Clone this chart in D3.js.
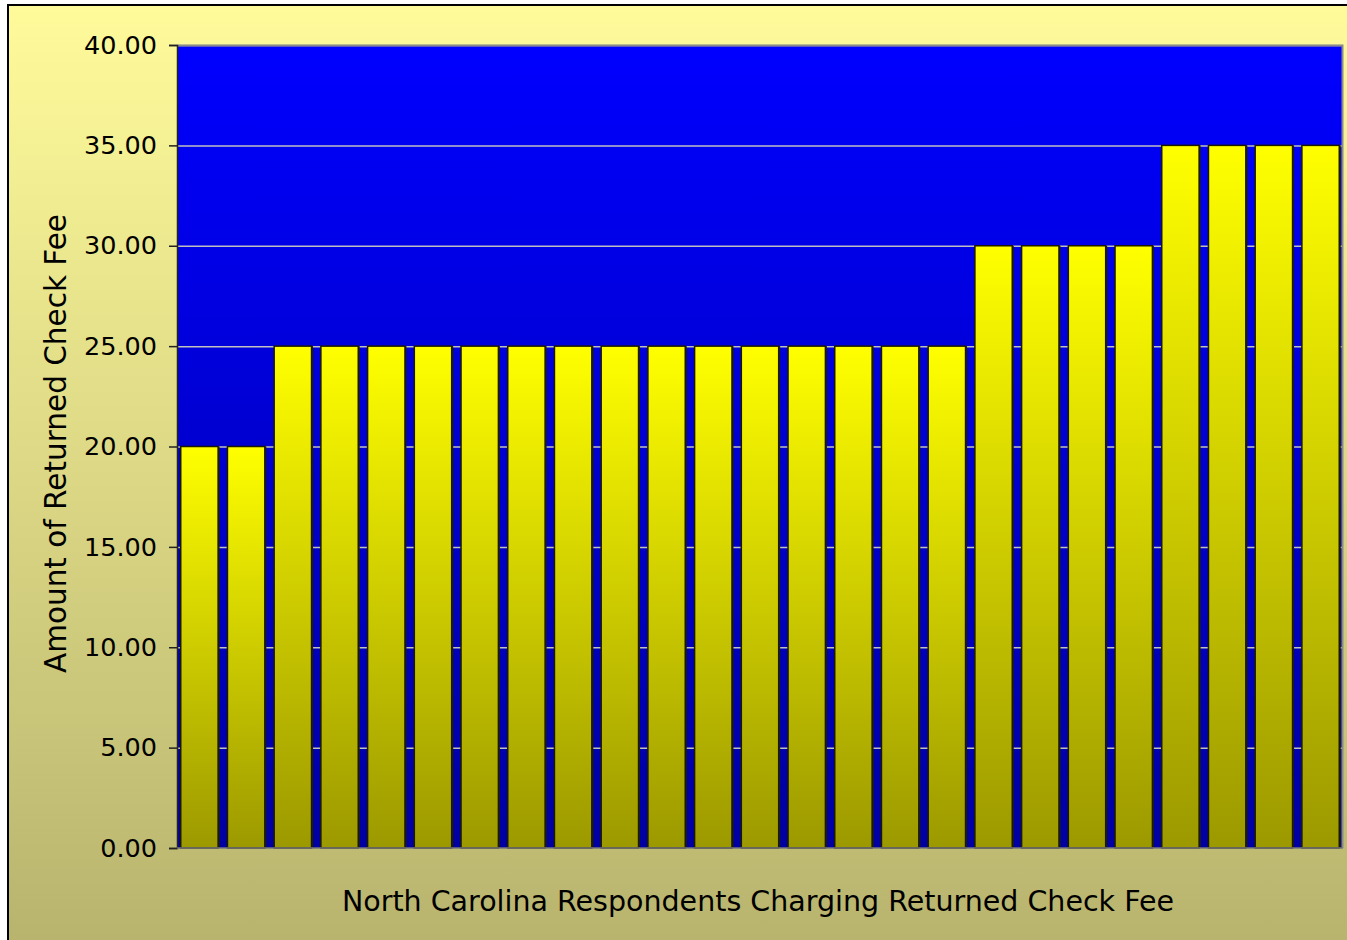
<!DOCTYPE html>
<html><head><meta charset="utf-8">
<script src="https://cdn.jsdelivr.net/npm/d3@7"></script>
<style>body{margin:0;background:#fff;overflow:hidden}svg{display:block}</style>
</head><body>
<svg id="c" width="1347" height="940"></svg>
<script>
const respondents = d3.range(1, 26).map(i => "R" + i);
const fees = [20,20,25,25,25,25,25,25,25,25,25,25,25,25,25,25,25,30,30,30,30,35,35,35,35];
const yTicks = [0,5,10,15,20,25,30,35,40];
const yTitle = "Amount of Returned Check Fee";
const xTitle = "North Carolina Respondents Charging Returned Check Fee";

const svg = d3.select("#c");
const W = 1347, H = 940;
const defs = svg.append("defs");
function lg(id, stops){
  const g = defs.append("linearGradient").attr("id", id).attr("x1",0).attr("y1",0).attr("x2",0).attr("y2",1);
  stops.forEach(s => g.append("stop").attr("offset", s[0]).attr("stop-color", s[1]));
}
lg("bg", [[0,"#FFFB9B"],[1,"#B7B36E"]]);
lg("plotbg", [[0,"#0000FF"],[1,"#0000A2"]]);
lg("bar", [[0,"#FFFF00"],[1,"#9C9900"]]);

svg.append("rect").attr("x",8).attr("y",5).attr("width",W+10).attr("height",H+10)
  .attr("fill","url(#bg)").attr("stroke","#000").attr("stroke-width",2);

const m = {l:177, r:1343, t:45, b:848};
const x = d3.scaleBand().domain(respondents).range([m.l, m.r]).paddingInner(0.2).paddingOuter(0.08);
const y = d3.scaleLinear().domain([0,40]).range([m.b, m.t]);

svg.append("rect").attr("x",m.l).attr("y",m.t).attr("width",m.r-m.l).attr("height",m.b-m.t)
  .attr("fill","url(#plotbg)");

svg.append("g").selectAll("line").data(yTicks.filter(d=>d>0)).join("line")
  .attr("x1",m.l).attr("x2",m.r).attr("y1",d=>y(d)+0.5).attr("y2",d=>y(d)+0.5)
  .attr("stroke","#C0C0C0").attr("stroke-width",1.5);

svg.append("path").attr("d",`M${m.l},${m.t+0.5}H${m.r-0.5}V${m.b}`).attr("fill","none")
  .attr("stroke","#8A8A8A").attr("stroke-width",2);

const bars = svg.append("g").selectAll("g").data(fees).join("g");
bars.append("rect")
  .attr("x",(d,i)=>x(respondents[i])+1.5).attr("y",d=>y(d))
  .attr("width",x.bandwidth()).attr("height",d=>y(0)-y(d))
  .attr("fill","#222200");
bars.append("rect")
  .attr("x",(d,i)=>x(respondents[i])).attr("y",d=>y(d))
  .attr("width",x.bandwidth()).attr("height",d=>y(0)-y(d))
  .attr("fill","url(#bar)").attr("stroke","#1a1a00").attr("stroke-width",1.5);

const yAxis = d3.axisLeft(y).tickValues(yTicks).tickFormat(d3.format(".2f")).tickSize(8).tickPadding(12);
const ga = svg.append("g").attr("transform",`translate(${m.l},0)`).call(yAxis);
ga.select(".domain").attr("stroke","#222").attr("stroke-width",1.5);
ga.selectAll(".tick line").attr("stroke","#222").attr("stroke-width",1.5);
ga.selectAll(".tick text").attr("font-family","'DejaVu Sans', Verdana, sans-serif")
  .attr("font-size",25.5).attr("fill","#000");
svg.append("line").attr("x1",m.l).attr("x2",m.r).attr("y1",m.b).attr("y2",m.b).attr("stroke","#777").attr("stroke-width",1.5);

svg.append("text").attr("transform",`translate(66,${(m.t+m.b)/2-3}) rotate(-90)`)
  .attr("text-anchor","middle").attr("font-family","'DejaVu Sans', Verdana, sans-serif")
  .attr("font-size",29.5).attr("fill","#000").text(yTitle);
svg.append("text").attr("x",758).attr("y",911)
  .attr("text-anchor","middle").attr("font-family","'DejaVu Sans', Verdana, sans-serif")
  .attr("font-size",28.5).attr("fill","#000").text(xTitle);
</script>
</body></html>
